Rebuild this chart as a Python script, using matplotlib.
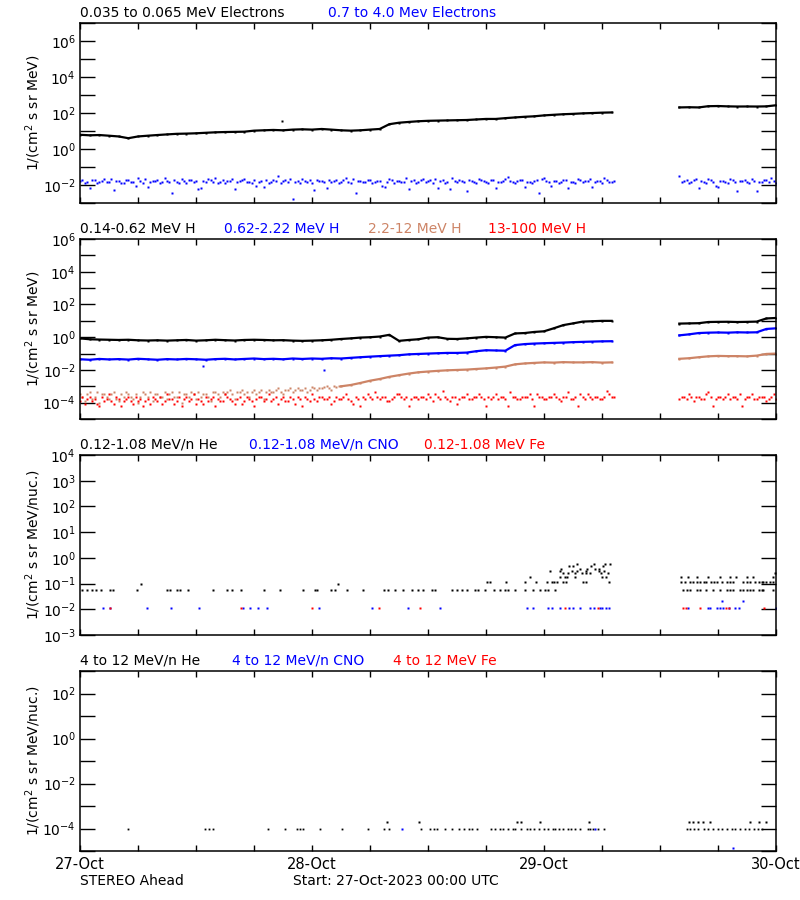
import numpy as np
import matplotlib.pyplot as plt
from matplotlib.ticker import FixedLocator, FuncFormatter, NullLocator

# hours since 27-Oct-2023 00:00 UTC, data gap between 55 h and 62 h
HOURS_A = np.arange(0, 56)
HOURS_B = np.arange(62, 73)
HALF_A = np.arange(0, 55.5, 0.5)
HALF_B = np.arange(62, 72.5, 0.5)
QUART_A = np.arange(0.25, 55.5, 0.5)
QUART_B = np.arange(62.25, 72, 0.5)

DAY_LABELS = ["27-Oct", "28-Oct", "29-Oct", "30-Oct"]

# ---- panel 1: electrons
e_lo_a = [6.2, 5.8, 6.0, 5.5, 5.0, 4.0, 5.0, 5.5, 6.0, 6.5,
          7.0, 7.2, 7.5, 8.0, 8.5, 8.8, 9.0, 9.2, 10.5, 11.0,
          11.5, 11.0, 12.0, 12.5, 12.0, 13.0, 12.0, 11.0, 10.5, 11.0,
          12.0, 13.0, 24.0, 29.0, 32.0, 35.0, 37.0, 38.0, 39.0, 40.0,
          41.0, 44.0, 47.0, 47.0, 52.0, 57.0, 62.0, 66.0, 74.0, 80.0,
          86.0, 90.0, 96.0, 100.0, 105.0, 108.0]
e_lo_b = [205, 210, 205, 240, 245, 235, 230, 232, 230, 235, 270]
e_lo_spike_t = [20.9]
e_lo_spike_v = [37.0]

e_hi_a = [0.016, 0.013, 0.007, 0.018, 0.015, 0.021, 0.014, 0.005, 0.017, 0.013,
          0.019, 0.015, 0.024, 0.013, 0.008, 0.016, 0.020, 0.014, 0.017, 0.0035,
          0.015, 0.022, 0.013, 0.018, 0.016, 0.007, 0.014, 0.019, 0.024, 0.015,
          0.013, 0.017, 0.006, 0.016, 0.021, 0.014, 0.018, 0.015, 0.008, 0.013,
          0.019, 0.030, 0.016, 0.014, 0.0016, 0.017, 0.022, 0.015, 0.013, 0.018,
          0.016, 0.007, 0.014, 0.020, 0.015, 0.024, 0.013, 0.0035, 0.017, 0.015,
          0.019, 0.014, 0.016, 0.008, 0.022, 0.013, 0.017, 0.015, 0.006, 0.018,
          0.014, 0.021, 0.016, 0.013, 0.007, 0.019, 0.015, 0.024, 0.014, 0.017,
          0.0045, 0.016, 0.013, 0.020, 0.015, 0.018, 0.007, 0.014, 0.022, 0.016,
          0.013, 0.019, 0.008, 0.015, 0.017, 0.0035, 0.024, 0.014, 0.016, 0.013,
          0.018, 0.007, 0.015, 0.021, 0.014, 0.017, 0.008, 0.016, 0.013, 0.019,
          0.015]
e_hi_b = [0.030, 0.016, 0.013, 0.018, 0.007, 0.015, 0.021, 0.014, 0.008, 0.017,
          0.013, 0.019, 0.0045, 0.016, 0.015, 0.022, 0.0045, 0.014, 0.018, 0.025,
          0.013]
e_hi_a2 = [0.018, 0.015, 0.020, 0.013, 0.017, 0.014, 0.022, 0.016, 0.013, 0.019,
           0.015, 0.009, 0.017, 0.021, 0.014, 0.016, 0.013, 0.024, 0.015, 0.018,
           0.013, 0.016, 0.019, 0.014, 0.006, 0.017, 0.021, 0.015, 0.013, 0.018,
           0.016, 0.022, 0.014, 0.019, 0.015, 0.013, 0.009, 0.017, 0.020, 0.014,
           0.016, 0.013, 0.018, 0.022, 0.015, 0.013, 0.017, 0.019, 0.005, 0.016,
           0.014, 0.020, 0.017, 0.013, 0.018, 0.015, 0.022, 0.016, 0.014, 0.019,
           0.013, 0.017, 0.009, 0.015, 0.020, 0.016, 0.014, 0.024, 0.017, 0.013,
           0.019, 0.015, 0.018, 0.022, 0.016, 0.013, 0.006, 0.017, 0.020, 0.015,
           0.018, 0.014, 0.021, 0.016, 0.013, 0.019, 0.015, 0.017, 0.028, 0.014,
           0.016, 0.020, 0.015, 0.013, 0.018, 0.022, 0.016, 0.009, 0.017, 0.014,
           0.019, 0.015, 0.013, 0.018, 0.016, 0.021, 0.014, 0.017, 0.024, 0.015,
           0.016]
e_hi_b2 = [0.015, 0.019, 0.014, 0.021, 0.016, 0.013, 0.018, 0.009, 0.017, 0.015,
           0.022, 0.014, 0.016, 0.019, 0.013, 0.017, 0.015, 0.020, 0.014, 0.016]

# ---- panel 2: protons
h1_a = [0.85, 0.75, 0.72, 0.70, 0.68, 0.70, 0.65, 0.63, 0.65, 0.62,
        0.65, 0.68, 0.62, 0.65, 0.70, 0.66, 0.63, 0.68, 0.70, 0.68,
        0.65, 0.66, 0.62, 0.60, 0.62, 0.65, 0.70, 0.78, 0.85, 0.95,
        1.00, 1.10, 1.40, 0.60, 0.68, 0.75, 0.95, 1.00, 0.80, 0.78,
        0.85, 0.95, 1.05, 1.00, 0.95, 1.70, 1.80, 2.10, 2.30, 3.50,
        5.50, 7.00, 9.00, 9.50, 10.0, 10.0]
h1_b = [6.8, 7.0, 7.2, 8.5, 8.7, 8.8, 8.5, 8.7, 9.0, 14.0, 15.0]

h2_a = [0.045, 0.042, 0.047, 0.044, 0.046, 0.043, 0.048, 0.045, 0.042, 0.046,
        0.044, 0.047, 0.045, 0.042, 0.046, 0.048, 0.044, 0.047, 0.050, 0.046,
        0.048, 0.045, 0.050, 0.047, 0.050, 0.048, 0.052, 0.050, 0.055, 0.060,
        0.065, 0.070, 0.075, 0.080, 0.090, 0.095, 0.100, 0.105, 0.110, 0.110,
        0.115, 0.140, 0.160, 0.155, 0.150, 0.330, 0.380, 0.410, 0.430, 0.450,
        0.470, 0.500, 0.520, 0.540, 0.560, 0.570]
h2_b = [1.3, 1.5, 1.8, 1.9, 1.95, 1.9, 2.0, 1.95, 2.0, 3.2, 3.5]
h2_out_t = [12.7, 25.2]
h2_out_v = [0.017, 0.010]

h3_early_t = np.arange(0, 27, 0.5)
h3_early = [3.2e-4, 1.2e-4, 4.5e-4, 2.3e-4, 9e-5, 3.2e-4, 1.7e-4, 4.5e-4, 1.2e-4, 2.3e-4,
            3.2e-4, 1.7e-4, 9e-5, 4.5e-4, 2.3e-4, 1.2e-4, 3.2e-4, 2.3e-4, 1.7e-4, 4.5e-4,
            2.3e-4, 9e-5, 3.2e-4, 4.5e-4, 1.7e-4, 2.3e-4, 3.2e-4, 1.2e-4, 4.5e-4, 2.3e-4,
            3.2e-4, 6e-4, 1.7e-4, 4.5e-4, 3.2e-4, 2.3e-4, 6e-4, 4.5e-4, 1.7e-4, 6e-4,
            4.5e-4, 7.5e-4, 3.2e-4, 6e-4, 4.5e-4, 8e-4, 6e-4, 4.5e-4, 9e-4, 6e-4,
            8e-4, 1.0e-3, 6e-4, 9e-4]
h3_early2_t = np.arange(0.25, 27, 0.5)
h3_early2 = [2.3e-4, 3.2e-4, 1.7e-4, 4.5e-4, 3.2e-4, 2.3e-4, 3.2e-4, 1.7e-4, 3.2e-4, 4.5e-4,
             2.3e-4, 3.2e-4, 2.3e-4, 3.2e-4, 4.5e-4, 3.2e-4, 2.3e-4, 4.5e-4, 3.2e-4, 2.3e-4,
             4.5e-4, 3.2e-4, 2.3e-4, 3.2e-4, 4.5e-4, 3.2e-4, 2.3e-4, 4.5e-4, 3.2e-4, 4.5e-4,
             4.5e-4, 3.2e-4, 4.5e-4, 6e-4, 4.5e-4, 4.5e-4, 3.2e-4, 6e-4, 4.5e-4, 4.5e-4,
             6e-4, 4.5e-4, 6e-4, 7.5e-4, 6e-4, 6e-4, 7.5e-4, 6e-4, 7.5e-4, 8e-4,
             9e-4, 8e-4, 1.0e-3, 1.1e-3]
h3_late_t = np.arange(27, 56)
h3_late = [1.0e-3, 1.2e-3, 1.6e-3, 2.2e-3, 2.8e-3, 3.8e-3, 4.8e-3, 6.0e-3, 7.2e-3, 8.0e-3,
           8.8e-3, 9.5e-3, 1.0e-2, 1.05e-2, 1.15e-2, 1.25e-2, 1.4e-2, 1.6e-2, 2.2e-2, 2.5e-2,
           2.7e-2, 2.9e-2, 2.8e-2, 3.0e-2, 2.9e-2, 2.9e-2, 3.0e-2, 2.8e-2, 2.9e-2]
h3_b = [0.048, 0.052, 0.060, 0.068, 0.072, 0.070, 0.070, 0.068, 0.075, 0.095, 0.100]

h4_a = [1.2e-4, 8e-5, 2.3e-4, 1.7e-4, 6e-5, 1.2e-4, 3.2e-4, 8e-5, 1.7e-4, 1.2e-4,
        2.3e-4, 8e-5, 1.2e-4, 6e-5, 1.7e-4, 2.3e-4, 1.2e-4, 8e-5, 3.2e-4, 1.7e-4,
        1.2e-4, 6e-5, 2.3e-4, 1.7e-4, 8e-5, 1.2e-4, 2.3e-4, 1.7e-4, 6e-5, 1.2e-4,
        3.2e-4, 1.7e-4, 8e-5, 2.3e-4, 1.2e-4, 1.7e-4, 6e-5, 2.3e-4, 1.2e-4, 3.2e-4,
        1.7e-4, 8e-5, 2.3e-4, 1.2e-4, 1.7e-4, 2.3e-4, 6e-5, 1.7e-4, 3.2e-4, 1.2e-4,
        2.3e-4, 1.7e-4, 8e-5, 2.3e-4, 1.7e-4, 3.2e-4, 1.2e-4, 2.3e-4, 6e-5, 1.7e-4,
        2.3e-4, 4.5e-4, 1.7e-4, 2.3e-4, 1.2e-4, 2.3e-4, 3.2e-4, 1.7e-4, 6e-5, 2.3e-4,
        1.7e-4, 2.3e-4, 3.2e-4, 1.2e-4, 2.3e-4, 5.5e-4, 1.7e-4, 2.3e-4, 8e-5, 2.3e-4,
        3.2e-4, 1.7e-4, 2.3e-4, 2.3e-4, 6e-5, 1.7e-4, 3.2e-4, 2.3e-4, 1.7e-4, 4.5e-4,
        2.3e-4, 1.7e-4, 2.3e-4, 3.2e-4, 6e-5, 2.3e-4, 1.7e-4, 2.3e-4, 3.2e-4, 1.7e-4,
        2.3e-4, 4.5e-4, 1.7e-4, 6e-5, 2.3e-4, 3.2e-4, 1.7e-4, 2.3e-4, 1.7e-4, 5.5e-4,
        2.3e-4]
h4_b = [1.7e-4, 2.3e-4, 3.2e-4, 1.2e-4, 2.3e-4, 1.7e-4, 4.5e-4, 6e-5, 2.3e-4, 1.7e-4,
        3.2e-4, 2.3e-4, 1.7e-4, 6e-5, 2.3e-4, 3.2e-4, 1.7e-4, 2.3e-4, 1.2e-4, 2.3e-4,
        1.7e-4]
h4_a2 = [2.3e-4, 1.7e-4, 1.2e-4, 8e-5, 2.3e-4, 1.7e-4, 1.2e-4, 2.3e-4, 6e-5, 1.7e-4,
         1.2e-4, 2.3e-4, 1.7e-4, 1.2e-4, 8e-5, 1.7e-4, 2.3e-4, 1.2e-4, 1.7e-4, 8e-5,
         2.3e-4, 1.7e-4, 1.2e-4, 3.2e-4, 1.7e-4, 8e-5, 1.2e-4, 2.3e-4, 1.7e-4, 1.2e-4,
         2.3e-4, 1.2e-4, 1.7e-4, 8e-5, 2.3e-4, 1.2e-4, 1.7e-4, 2.3e-4, 1.7e-4, 1.2e-4,
         2.3e-4, 1.7e-4, 1.2e-4, 2.3e-4, 8e-5, 1.7e-4, 2.3e-4, 1.2e-4, 1.7e-4, 2.3e-4,
         1.7e-4, 2.3e-4, 1.2e-4, 1.7e-4, 2.3e-4, 1.7e-4, 8e-5, 1.7e-4, 2.3e-4, 3.2e-4,
         1.7e-4, 2.3e-4, 2.3e-4, 1.2e-4, 1.7e-4, 3.2e-4, 2.3e-4, 2.3e-4, 1.7e-4, 2.3e-4,
         2.3e-4, 1.7e-4, 2.3e-4, 3.2e-4, 1.7e-4, 2.3e-4, 1.2e-4, 2.3e-4, 1.7e-4, 2.3e-4,
         1.7e-4, 2.3e-4, 3.2e-4, 1.7e-4, 2.3e-4, 2.3e-4, 1.7e-4, 2.3e-4, 6e-5, 2.3e-4,
         1.7e-4, 2.3e-4, 2.3e-4, 1.7e-4, 3.2e-4, 2.3e-4, 1.7e-4, 2.3e-4, 2.3e-4, 1.2e-4,
         2.3e-4, 1.7e-4, 2.3e-4, 3.2e-4, 1.7e-4, 2.3e-4, 2.3e-4, 1.7e-4, 2.3e-4, 3.2e-4,
         2.3e-4]
h4_b2 = [2.3e-4, 1.7e-4, 2.3e-4, 2.3e-4, 1.7e-4, 3.2e-4, 2.3e-4, 1.7e-4, 2.3e-4, 2.3e-4,
         1.7e-4, 2.3e-4, 3.2e-4, 1.7e-4, 2.3e-4, 1.7e-4, 2.3e-4, 2.3e-4, 1.7e-4, 3.2e-4]

# ---- panel 3: 0.12-1.08 MeV/n heavy ions (sparse counts)
he_levels = [0.055, 0.1, 0.12, 0.18, 0.25, 0.3, 0.37, 0.5, 0.6]
he_times = [
    [0.2, 0.7, 1.2, 1.7, 2.2, 3.1, 3.4, 5.9, 9.0, 9.3, 10.0, 10.3, 11.2, 13.8, 15.2,
     15.7, 16.7, 19.0, 20.7, 23.1, 24.3, 24.5, 26.0, 26.4, 27.6, 29.3, 31.4, 31.9, 32.6,
     33.4, 34.3, 35.0, 35.5, 36.4, 36.7, 38.5, 39.0, 39.5, 40.0, 40.9, 41.2, 41.9, 42.8,
     43.4, 44.0, 44.3, 45.0, 46.0, 46.9, 47.6, 48.1, 48.4, 49.1,
     62.4, 62.8, 63.1, 63.8, 64.1, 64.8, 65.5, 66.2, 66.9, 67.2, 67.6, 68.3, 68.6, 69.0,
     69.3, 69.6, 70.2, 70.5, 70.7, 71.7],
    [6.3, 26.7],
    [42.1, 42.4, 44.1, 46.0, 47.2, 48.3, 48.8, 49.0, 49.3, 50.0, 50.3, 52.0, 52.3, 54.7,
     62.2, 62.6, 63.1, 63.4, 63.8, 64.1, 64.5, 64.8, 65.3, 65.6, 65.9, 66.4, 66.9, 67.2,
     67.6, 68.6, 69.0, 69.3, 69.8, 70.2, 70.5, 70.7, 71.0, 71.4, 71.7],
    [46.6, 49.7, 50.2, 50.4, 51.2, 54.0, 54.4, 62.2, 62.9, 63.8, 65.0, 66.2, 67.2, 67.9,
     69.0, 69.6, 71.7],
    [50.0, 50.5, 51.2, 51.9, 52.3, 52.8, 53.9, 54.6, 71.9],
    [48.6, 49.7, 50.9, 51.4, 52.3, 53.7, 54.2],
    [49.8, 51.7, 52.4, 53.3, 53.7],
    [50.6, 51.0, 52.9, 54.1],
    [51.4, 53.2, 54.3, 54.8],
]
cno_lo_t = [2.4, 3.1, 6.9, 9.4, 12.3, 16.9, 17.6, 18.4, 19.3, 24.7, 30.2, 33.9, 37.2,
            46.2, 46.9, 48.4, 48.8, 49.7, 50.6, 51.0, 51.7, 52.8, 53.2, 53.8, 54.0, 54.4,
            54.7, 62.9, 65.0, 65.2, 65.9, 66.2, 66.5, 67.1, 67.8, 68.2, 72.0]
cno_lo_v = 0.011
cno_lo_hi_t = [66.4, 68.6]
cno_lo_hi_v = 0.022
fe_lo_t = [3.1, 16.7, 24.0, 30.9, 35.2, 50.2, 53.6, 62.4, 62.7, 64.1, 66.8, 67.1, 70.8]
fe_lo_v = 0.011

# ---- panel 4: 4-12 MeV/n heavy ions
he4_t1 = [5.0, 12.9, 13.3, 13.8, 19.4, 21.2, 22.4, 22.8, 23.1, 24.8, 27.1, 29.8, 31.4,
          32.0, 35.3, 36.2, 36.6, 36.9, 37.8, 38.5, 39.2, 39.7, 40.2, 40.6, 41.1, 42.5,
          42.9, 43.4, 43.8, 44.3, 44.8, 45.0, 45.6, 46.2, 46.6, 47.0, 47.5, 48.0, 48.4,
          48.9, 49.1, 49.6, 50.0, 50.5, 50.8, 51.2, 51.7, 52.6, 52.8, 53.1, 53.6, 54.2,
          62.8, 63.1, 63.5, 63.9, 64.6, 65.0, 65.5, 66.0, 66.4, 66.9, 67.4, 67.8, 68.3,
          68.8, 69.2, 69.7, 70.1, 70.6]
he4_v1 = 1e-4
he4_t2 = [31.8, 35.1, 45.2, 45.6, 47.6, 52.7, 63.0, 63.4, 63.9, 64.4, 65.2, 69.3, 70.2, 71.0]
he4_v2 = 2e-4
cno4_t = [33.3, 53.3, 67.5]
cno4_v = [1e-4, 1e-4, 1.3e-5]

BROWN = "#cd8466"
FS = 10


def dots(ax, t, v, color, ms=1.5, line=False, lw=1.6):
    t = np.asarray(t, dtype=float)
    v = np.broadcast_to(np.asarray(v, dtype=float), t.shape)
    ax.plot(t, v, ls="-" if line else "none", lw=lw, marker="s", ms=ms,
            mec="none", color=color, solid_joinstyle="miter")


def setup(ax, lo, hi, labeled, ylabel):
    ax.set_yscale("log")
    ax.set_xlim(0, 72)
    ax.set_ylim(10.0 ** lo, 10.0 ** hi)
    ax.yaxis.set_major_locator(FixedLocator([10.0 ** k for k in range(lo, hi + 1)]))
    ax.yaxis.set_minor_locator(NullLocator())

    def fmt(v, pos):
        k = int(round(np.log10(v)))
        return f"$10^{{{k}}}$" if k in labeled else ""

    ax.yaxis.set_major_formatter(FuncFormatter(fmt))
    ax.set_xticks(np.arange(0, 73, 6))
    ax.xaxis.set_minor_locator(NullLocator())
    ax.set_xticklabels([])
    ax.tick_params(axis="y", direction="in", length=11, width=1,
                   left=True, right=True, labelsize=FS, pad=3)
    ax.tick_params(axis="x", direction="in", length=4, width=1,
                   top=True, bottom=True)
    for s in ax.spines.values():
        s.set_linewidth(1.1)
    ax.set_ylabel(ylabel, fontsize=FS)
    ax.yaxis.set_label_coords(-0.053, 0.5)


def titles(ax, items):
    for x, text, color in items:
        ax.text(x, 1.056, text, color=color, transform=ax.transAxes,
                fontsize=FS, ha="left", va="center")


fig = plt.figure(figsize=(8, 9), dpi=100)
ax1 = fig.add_axes([0.1, 0.7744, 0.87, 0.2])
ax2 = fig.add_axes([0.1, 0.5344, 0.87, 0.2])
ax3 = fig.add_axes([0.1, 0.2944, 0.87, 0.2])
ax4 = fig.add_axes([0.1, 0.0544, 0.87, 0.2])

# panel 1
setup(ax1, -3, 7, [-2, 0, 2, 4, 6], "1/(cm$^2$ s sr MeV)")
dots(ax1, HOURS_A, e_lo_a, "black", ms=2, line=True)
dots(ax1, HOURS_B, e_lo_b, "black", ms=2, line=True)
dots(ax1, e_lo_spike_t, e_lo_spike_v, "black", ms=2)
dots(ax1, HALF_A, e_hi_a, "blue")
dots(ax1, HALF_B, e_hi_b, "blue")
dots(ax1, QUART_A, e_hi_a2, "blue")
dots(ax1, QUART_B, e_hi_b2, "blue")
titles(ax1, [(0.0, "0.035 to 0.065 MeV Electrons", "black"),
             (0.356, "0.7 to 4.0 Mev Electrons", "blue")])

# panel 2
setup(ax2, -5, 6, [-4, -2, 0, 2, 4, 6], "1/(cm$^2$ s sr MeV)")
dots(ax2, HOURS_A, h1_a, "black", ms=2, line=True)
dots(ax2, HOURS_B, h1_b, "black", ms=2, line=True)
dots(ax2, HOURS_A, h2_a, "blue", ms=2, line=True)
dots(ax2, HOURS_B, h2_b, "blue", ms=2, line=True)
dots(ax2, h2_out_t, h2_out_v, "blue", ms=1.8)
dots(ax2, h3_early_t, h3_early, BROWN)
dots(ax2, h3_early2_t, h3_early2, BROWN)
dots(ax2, h3_late_t, h3_late, BROWN, ms=2, line=True)
dots(ax2, HOURS_B, h3_b, BROWN, ms=2, line=True)
dots(ax2, HALF_A, h4_a, "red")
dots(ax2, HALF_B, h4_b, "red")
dots(ax2, QUART_A, h4_a2, "red")
dots(ax2, QUART_B, h4_b2, "red")
titles(ax2, [(0.0, "0.14-0.62 MeV H", "black"),
             (0.207, "0.62-2.22 MeV H", "blue"),
             (0.414, "2.2-12 MeV H", BROWN),
             (0.586, "13-100 MeV H", "red")])

# panel 3
setup(ax3, -3, 4, [-3, -2, -1, 0, 1, 2, 3, 4], "1/(cm$^2$ s sr MeV/nuc.)")
for lev, ts in zip(he_levels, he_times):
    dots(ax3, ts, lev, "black", ms=1.6)
dots(ax3, cno_lo_t, cno_lo_v, "blue", ms=1.6)
dots(ax3, cno_lo_hi_t, cno_lo_hi_v, "blue", ms=1.6)
dots(ax3, fe_lo_t, fe_lo_v, "red", ms=1.6)
titles(ax3, [(0.0, "0.12-1.08 MeV/n He", "black"),
             (0.243, "0.12-1.08 MeV/n CNO", "blue"),
             (0.494, "0.12-1.08 MeV Fe", "red")])

# panel 4
setup(ax4, -5, 3, [-4, -2, 0, 2], "1/(cm$^2$ s sr MeV/nuc.)")
dots(ax4, he4_t1, he4_v1, "black", ms=1.3)
dots(ax4, he4_t2, he4_v2, "black", ms=1.6)
dots(ax4, cno4_t, cno4_v, "blue", ms=1.5)
titles(ax4, [(0.0, "4 to 12 MeV/n He", "black"),
             (0.218, "4 to 12 MeV/n CNO", "blue"),
             (0.45, "4 to 12 MeV Fe", "red")])

ax4.set_xticks(np.arange(0, 73, 6))
ax4.set_xticklabels([DAY_LABELS[int(h // 24)] if h % 24 == 0 else "" for h in range(0, 73, 6)],
                    fontsize=10.5)
ax4.tick_params(axis="x", pad=4)

fig.text(0.1, 1 - 881 / 900, "STEREO Ahead", fontsize=FS, ha="left", va="center")
fig.text(293 / 800, 1 - 881 / 900, "Start: 27-Oct-2023 00:00 UTC", fontsize=FS,
         ha="left", va="center")

fig.savefig("out.png", dpi=100)
